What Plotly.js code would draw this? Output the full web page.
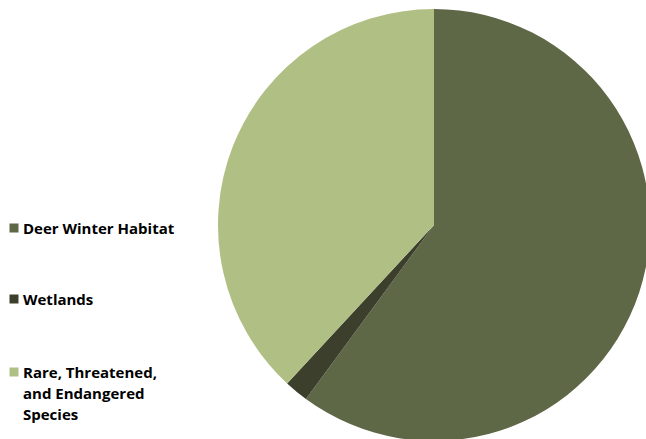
<!DOCTYPE html>
<html>
<head>
<meta charset="utf-8">
<script src="https://cdn.plot.ly/plotly-3.0.1.min.js"></script>
<style>
html,body{margin:0;padding:0;overflow:hidden;background:#fff;}
#chart{width:652px;height:445px;}
</style>
</head>
<body>
<div id="chart"></div>
<script>
const labels = ["Deer Winter Habitat", "Wetlands", "Rare, Threatened, and Endangered Species"];
const legendLines = [["Deer Winter Habitat"], ["Wetlands"], ["Rare, Threatened,", "and Endangered", "Species"]];
const values = [60.1, 1.8, 38.1];
const colors = ["#5E6746", "#3C3F2C", "#B0BF84"];

const W = 652, H = 445;
const legendTop = [228, 299, 372];   // centre of first line of each legend entry (px from top)
const lineGap = 21;
const annotations = [], shapes = [];
labels.forEach((l, i) => {
  legendLines[i].forEach((t, j) => {
    annotations.push({
      xref: "paper", yref: "paper", x: 21 / W, y: 1 - (legendTop[i] + j * lineGap) / H,
      xanchor: "left", yanchor: "middle", align: "left", showarrow: false,
      text: "<b>" + t + "</b>",
      font: {family: "'Open Sans', sans-serif", size: 15, color: "#000"}
    });
  });
  const sy = legendTop[i];
  shapes.push({
    type: "rect", xref: "paper", yref: "paper",
    x0: 9.5 / W, x1: 18.5 / W, y0: 1 - (sy - 4.5) / H, y1: 1 - (sy + 4.5) / H,
    fillcolor: colors[i], line: {width: 0}
  });
});

Plotly.newPlot("chart", [{
  type: "pie",
  labels: labels,
  values: values,
  marker: {colors: colors, line: {width: 0}},
  sort: false,
  direction: "clockwise",
  rotation: 0,
  textinfo: "none",
  hoverinfo: "label+percent",
  domain: {x: [218 / W, 650 / W], y: [1 - 441 / H, 1 - 9 / H]}
}], {
  width: W, height: H,
  margin: {l: 0, r: 0, t: 0, b: 0},
  showlegend: false,
  paper_bgcolor: "#fff",
  annotations: annotations,
  shapes: shapes
}, {displayModeBar: false, staticPlot: true});
</script>
</body>
</html>
